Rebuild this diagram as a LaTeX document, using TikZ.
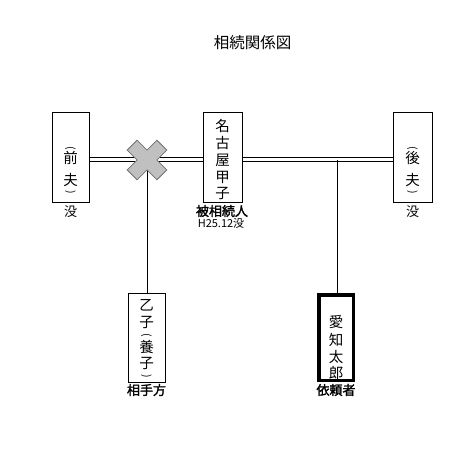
\documentclass[tikz,border=0pt]{standalone}
\usepackage{fontspec}
\newfontfamily\cjk{Noto Sans CJK JP}
\newfontfamily\cjkb[FakeBold=2]{Noto Sans CJK JP}
\definecolor{xfill}{HTML}{C0C0C0}
\definecolor{xedge}{HTML}{707070}
\begin{document}
\begin{tikzpicture}[x=1pt,y=-1pt,
  person/.style={draw, line width=1pt, minimum width=37pt, minimum height=90pt, inner sep=0pt},
  ch/.style={font=\cjk\fontsize{14.5}{14.5}\selectfont, inner sep=0pt},
  pr/.style={font=\cjk\fontsize{10.5}{10.5}\selectfont, inner sep=0pt, rotate=-90},
  lbl/.style={font=\cjk\fontsize{13}{13}\selectfont, inner sep=0pt},
  blbl/.style={font=\cjkb\fontsize{13}{13}\selectfont, inner sep=0pt},
  small/.style={font=\cjk\fontsize{11}{11}\selectfont, inner sep=0pt},
  conn/.style={line width=1pt},
  dline/.style={line width=1pt}]
\useasboundingbox (0,0) rectangle (471,465);
\fill[white] (0,0) rectangle (471,465);

% title
\node[font=\cjk\fontsize{15.5}{15.5}\selectfont, inner sep=0pt] (title) at (252.5,43) {相続関係図};

% boxes
\node[person] (zen) at (70.5,158) {};
\node[person, minimum width=39pt] (mei) at (222.5,158) {};
\node[person, minimum width=39pt] (go) at (412.5,158) {};
\node[person, minimum height=89pt] (otsu) at (146.5,337.5) {};
\node[draw, line width=3.5pt, minimum width=34.5pt, minimum height=85.5pt, inner sep=0pt] (aichi) at (336,337.5) {};

% junction points
\coordinate (cross) at (147,160);
\coordinate (j) at (337,160);

% connectors
\draw[conn] (cross) -- (cross |- otsu.north);
\draw[conn] (j) -- (j |- aichi.north);
\fill[white] (zen.east |- cross) ++(0,-1.5) rectangle ([yshift=1.5pt]mei.west |- cross);
\fill[white] (mei.east |- j) ++(0,-1.5) rectangle ([yshift=1.5pt]go.west |- j);
\draw[dline] ([yshift=-2pt]zen.east |- cross) -- ([yshift=-2pt]mei.west |- cross);
\draw[dline] ([yshift=2pt]zen.east |- cross) -- ([yshift=2pt]mei.west |- cross);
\draw[dline] ([yshift=-2pt]mei.east |- j) -- ([yshift=-2pt]go.west |- j);
\draw[dline] ([yshift=2pt]mei.east |- j) -- ([yshift=2pt]go.west |- j);

% cross mark
\filldraw[fill=xfill, draw=xedge, line width=0.8pt, shift={(cross)}, rotate=45]
  (7,7) -- (21,7) -- (21,-7) -- (7,-7) -- (7,-21) -- (-7,-21) -- (-7,-7)
  -- (-21,-7) -- (-21,7) -- (-7,7) -- (-7,21) -- (7,21) -- cycle;

% texts: 前夫
\node[pr] (zp1) at (70.5,148.5) {(};
\node[ch] (z1) at (70.5,158) {前};
\node[ch] (z2) at (70.5,179.5) {夫};
\node[pr] (zp2) at (70.5,192.5) {)};
\node[lbl] (zl) at (70.5,212) {没};

% 名古屋甲子
\node[ch] (m1) at (222.5,125.5) {名};
\node[ch] (m2) at (222.5,143) {古};
\node[ch] (m3) at (222.5,160) {屋};
\node[ch] (m4) at (222.5,177) {甲};
\node[ch] (m5) at (222.5,193.5) {子};
\node[blbl] (ml) at (222,211) {被相続人};
\node[small] (ml2) at (221,223) {H25.12没};

% 後夫
\node[pr] (gp1) at (412.5,148.5) {(};
\node[ch] (g1) at (412.5,158) {後};
\node[ch] (g2) at (412.5,179.5) {夫};
\node[pr] (gp2) at (412.5,192.5) {)};
\node[lbl] (gl) at (412.5,212) {没};

% 乙子(養子)
\node[ch] (o1) at (146.5,305) {乙};
\node[ch] (o2) at (146.5,322) {子};
\node[pr] (op1) at (146.5,335) {(};
\node[ch] (o3) at (146.5,347) {養};
\node[ch] (o4) at (146.5,363) {子};
\node[pr] (op2) at (146.5,376) {)};
\node[blbl] (ol) at (146.5,390) {相手方};

% 愛知太郎
\node[ch] (a1) at (336,321.5) {愛};
\node[ch] (a2) at (336,339.5) {知};
\node[ch] (a3) at (336,357) {太};
\node[ch] (a4) at (336,373.5) {郎};
\node[blbl] (al) at (336,390) {依頼者};
\end{tikzpicture}
\end{document}
